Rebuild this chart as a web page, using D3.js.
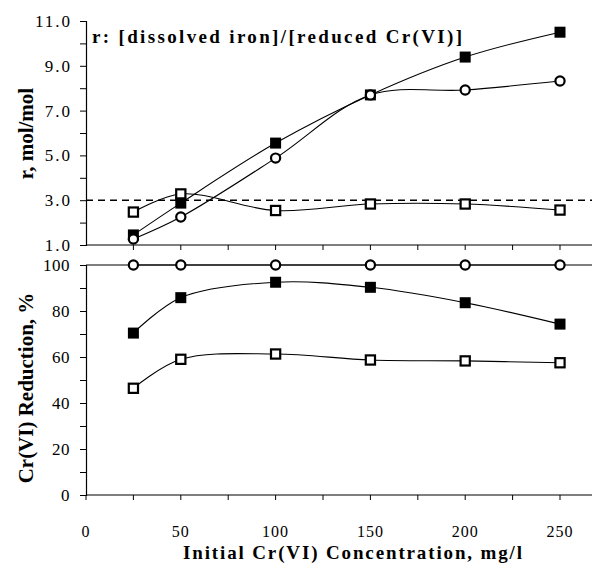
<!DOCTYPE html>
<html>
<head>
<meta charset="utf-8">
<script src="https://cdn.jsdelivr.net/npm/d3@7"></script>
<style>
  html, body { margin: 0; padding: 0; background: #fff; }
  svg { display: block; }
</style>
</head>
<body>
<svg id="chart" width="592" height="564"></svg>
<script>
// ---- Data ----
const concentrations = [25, 50, 100, 150, 200, 250];
// Top panel: r = [dissolved iron]/[reduced Cr(VI)], mol/mol
const rFilledSquare = [1.45, 2.87, 5.55, 7.7, 9.39, 10.5];
const rOpenCircle   = [1.27, 2.25, 4.88, 7.7, 7.92, 8.32];
const rOpenSquare   = [2.47, 3.28, 2.54, 2.83, 2.83, 2.56];
const rReference = 3.0;
// Bottom panel: Cr(VI) reduction, %
const redOpenCircle   = [100, 100, 100, 100, 100, 100];
const redFilledSquare = [70.4, 85.8, 92.5, 90.3, 83.6, 74.3];
const redOpenSquare   = [46.4, 59.0, 61.3, 58.7, 58.3, 57.5];

const xTickLabels = [0, 50, 100, 150, 200, 250];
const topTickLabels = [1, 3, 5, 7, 9, 11];
const bottomTickLabels = [0, 20, 40, 60, 80, 100];

const chartTitle = "r: [dissolved iron]/[reduced Cr(VI)]";
const topYTitle = "r, mol/mol";
const bottomYTitle = "Cr(VI) Reduction, %";
const xTitle = "Initial Cr(VI) Concentration, mg/l";

const SERIF = "Liberation Serif";

// ---- Layout ----
const svg = d3.select("#chart");
const x = d3.scaleLinear().domain([0, 250]).range([86, 560]);
const xRight = 592;
const yTop = d3.scaleLinear().domain([1, 11]).range([245, 21]);
const yBot = d3.scaleLinear().domain([0, 100]).range([495, 265]);

const curve = d3.curveCatmullRom.alpha(0.5);

function txt(sel) {
  return sel.style("font-family", SERIF).attr("fill", "#000");
}

// ---- Top panel axes ----
const gTopY = svg.append("g").attr("transform", `translate(${x(0)},0)`);
gTopY.call(d3.axisLeft(yTop).tickValues(d3.range(1, 11.01, 1)).tickSize(6).tickFormat(() => ""))
  .call(g => g.select(".domain").attr("stroke-width", 1.2))
  .call(g => g.selectAll(".tick line").attr("stroke-width", 1));
txt(gTopY.selectAll(".tickLabel").data(topTickLabels).enter().append("text")
  .attr("x", -14).attr("y", d => yTop(d)).attr("dy", "0.35em")
  .attr("text-anchor", "end").style("font-size", "17px").style("letter-spacing", "2px")
  .text(d => d.toFixed(1)));

// top x axis line with ticks (down)
const gTopX = svg.append("g").attr("transform", `translate(0,${yTop(1)})`);
gTopX.append("line").attr("x1", x(0)).attr("x2", xRight).attr("y1", 0).attr("y2", 0)
  .attr("stroke", "#000").attr("stroke-width", 1.2);
gTopX.selectAll(".t").data(d3.range(25, 251, 25)).enter().append("line")
  .attr("x1", d => x(d)).attr("x2", d => x(d)).attr("y1", 0).attr("y2", 5)
  .attr("stroke", "#000").attr("stroke-width", 1);

// dashed reference line at r = 3
svg.append("line")
  .attr("x1", x(0)).attr("x2", xRight).attr("y1", yTop(rReference)).attr("y2", yTop(rReference))
  .attr("stroke", "#000").attr("stroke-width", 1.5).attr("stroke-dasharray", "7,5");

// ---- Bottom panel axes ----
const gBotY = svg.append("g").attr("transform", `translate(${x(0)},0)`);
gBotY.call(d3.axisLeft(yBot).tickValues(d3.range(0, 101, 10)).tickSize(6).tickFormat(() => ""))
  .call(g => g.select(".domain").attr("stroke-width", 1.2));
txt(gBotY.selectAll(".tickLabel").data(bottomTickLabels).enter().append("text")
  .attr("x", -16).attr("y", d => yBot(d)).attr("dy", "0.35em")
  .attr("text-anchor", "end").style("font-size", "17px").style("letter-spacing", "0.5px")
  .text(d => d));

// top border line at 100
svg.append("line").attr("x1", x(0)).attr("x2", xRight).attr("y1", yBot(100)).attr("y2", yBot(100))
  .attr("stroke", "#000").attr("stroke-width", 1.2);

// bottom x axis
const gBotX = svg.append("g").attr("transform", `translate(0,${yBot(0)})`);
gBotX.append("line").attr("x1", x(0)).attr("x2", xRight).attr("y1", 0).attr("y2", 0)
  .attr("stroke", "#000").attr("stroke-width", 1.2);
gBotX.selectAll(".t").data(d3.range(0, 251, 25)).enter().append("line")
  .attr("x1", d => x(d)).attr("x2", d => x(d)).attr("y1", 0).attr("y2", 5)
  .attr("stroke", "#000").attr("stroke-width", 1);
txt(gBotX.selectAll(".lab").data(xTickLabels).enter().append("text")
  .attr("x", d => x(d)).attr("y", 42)
  .attr("text-anchor", "middle").style("font-size", "16px").style("letter-spacing", "1px")
  .text(d => d));

// ---- Series drawing ----
function drawSeries(yScale, values, marker) {
  const pts = concentrations.map((c, i) => [x(c), yScale(values[i])]);
  svg.append("path").datum(pts)
    .attr("d", d3.line().curve(curve))
    .attr("fill", "none").attr("stroke", "#000").attr("stroke-width", 1.1);
  const g = svg.append("g");
  if (marker === "circle") {
    g.selectAll("circle").data(pts).enter().append("circle")
      .attr("cx", d => d[0]).attr("cy", d => d[1]).attr("r", 4.6)
      .attr("fill", "#fff").attr("stroke", "#000").attr("stroke-width", 2.2);
  } else if (marker === "filledSquare") {
    g.selectAll("rect").data(pts).enter().append("rect")
      .attr("x", d => d[0] - 5.5).attr("y", d => d[1] - 5.5)
      .attr("width", 11).attr("height", 11).attr("fill", "#000");
  } else {
    g.selectAll("rect").data(pts).enter().append("rect")
      .attr("x", d => d[0] - 4.6).attr("y", d => d[1] - 4.6)
      .attr("width", 9.2).attr("height", 9.2)
      .attr("fill", "#fff").attr("stroke", "#000").attr("stroke-width", 2.2);
  }
}

drawSeries(yTop, rOpenSquare, "openSquare");
drawSeries(yTop, rFilledSquare, "filledSquare");
drawSeries(yTop, rOpenCircle, "circle");

drawSeries(yBot, redOpenSquare, "openSquare");
drawSeries(yBot, redFilledSquare, "filledSquare");
drawSeries(yBot, redOpenCircle, "circle");

// ---- Titles ----
txt(svg.append("text").attr("x", 92).attr("y", 43)
  .attr("textLength", 370).attr("lengthAdjust", "spacing")
  .style("font-size", "19px").style("font-weight", "bold")
  .text(chartTitle));

txt(svg.append("text")
  .attr("transform", `translate(33,${(80 + 187) / 2}) rotate(-90)`)
  .attr("text-anchor", "middle")
  .style("font-size", "21px").style("font-weight", "bold")
  .text(topYTitle));

txt(svg.append("text")
  .attr("transform", `translate(33,${(270 + 506) / 2}) rotate(-90)`)
  .attr("text-anchor", "middle")
  .style("font-size", "21px").style("font-weight", "bold")
  .text(bottomYTitle));

txt(svg.append("text").attr("x", 183).attr("y", 559)
  .attr("textLength", 339).attr("lengthAdjust", "spacing")
  .style("font-size", "19px").style("font-weight", "bold")
  .text(xTitle));
</script>
</body>
</html>
